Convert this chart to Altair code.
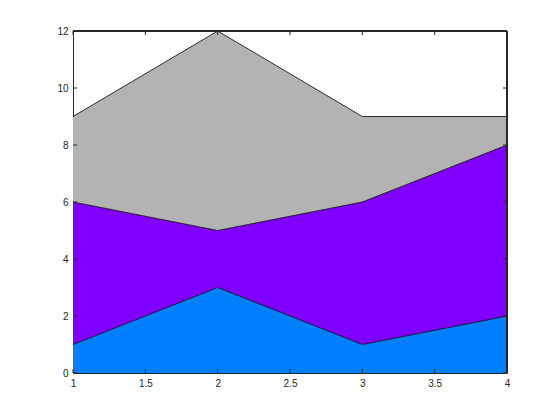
import altair as alt
import pandas as pd

x_vals = [1, 2, 3, 4]
s1 = [1, 3, 1, 2]
s2 = [5, 2, 5, 6]
s3 = [3, 7, 3, 1]
names = ["s1", "s2", "s3"]
colors = ["#0080ff", "#8000ff", "#b3b3b3"]
x_ticks = [1, 1.5, 2, 2.5, 3, 3.5, 4]
y_ticks = [0, 2, 4, 6, 8, 10, 12]

W, H = 434, 342

rows = []
for i, xv in enumerate(x_vals):
    base = 0
    for name, series in zip(names, [s1, s2, s3]):
        top = base + series[i]
        rows.append({"x": xv, "series": name, "lo": base, "hi": top})
        base = top
df = pd.DataFrame(rows)

xs = alt.Scale(domain=[1, 4], nice=False, zero=False)
ys = alt.Scale(domain=[0, 12], nice=False)

xaxis = alt.Axis(values=x_ticks, tickSize=0, labelPadding=5, grid=False, format="~g",
                 labelFontSize=10, labelColor="#262626", domain=True, domainColor="#262626",
                 title=None, labelFont="Liberation Sans", labelFlush=False)
yaxis = alt.Axis(values=y_ticks, tickSize=0, labelPadding=5, grid=False, format="~g",
                 labelFontSize=10, labelColor="#262626", domain=True, domainColor="#262626",
                 title=None, labelFont="Liberation Sans")

area = alt.Chart(df).mark_area(opacity=1).encode(
    x=alt.X("x:Q", scale=xs, axis=xaxis),
    y=alt.Y("lo:Q", scale=ys, axis=yaxis),
    y2="hi:Q",
    color=alt.Color("series:N", scale=alt.Scale(domain=names, range=colors), legend=None),
)

line = alt.Chart(df).mark_line(color="black", strokeWidth=0.8).encode(
    x=alt.X("x:Q", scale=xs),
    y=alt.Y("hi:Q", scale=ys),
    detail="series:N",
)

xt = pd.DataFrame({"t": x_ticks})
yt = pd.DataFrame({"t": y_ticks})
tick_b = alt.Chart(xt).mark_rule(color="#262626").encode(
    x=alt.X("t:Q", scale=xs), y=alt.value(H), y2=alt.value(H - 4))
tick_t = alt.Chart(xt).mark_rule(color="#262626").encode(
    x=alt.X("t:Q", scale=xs), y=alt.value(0), y2=alt.value(4))
tick_l = alt.Chart(yt).mark_rule(color="#262626").encode(
    y=alt.Y("t:Q", scale=ys), x=alt.value(0), x2=alt.value(4))
tick_r = alt.Chart(yt).mark_rule(color="#262626").encode(
    y=alt.Y("t:Q", scale=ys), x=alt.value(W), x2=alt.value(W - 4))
frame_t = alt.Chart(xt).mark_rule(color="#262626").encode(
    x=alt.value(0), x2=alt.value(W), y=alt.value(0))
frame_r = alt.Chart(xt).mark_rule(color="#262626").encode(
    x=alt.value(W), y=alt.value(0), y2=alt.value(H))

chart = alt.layer(area, line, tick_b, tick_t, tick_l, tick_r, frame_t, frame_r).properties(
    width=W, height=H,
    autosize=alt.AutoSizeParams(type="none"),
    padding={"left": 65, "top": 23, "right": 45, "bottom": 39},
).configure_view(stroke=None).configure(background="white")

chart.save("out.html", embed_options={"renderer": "svg", "actions": False})
